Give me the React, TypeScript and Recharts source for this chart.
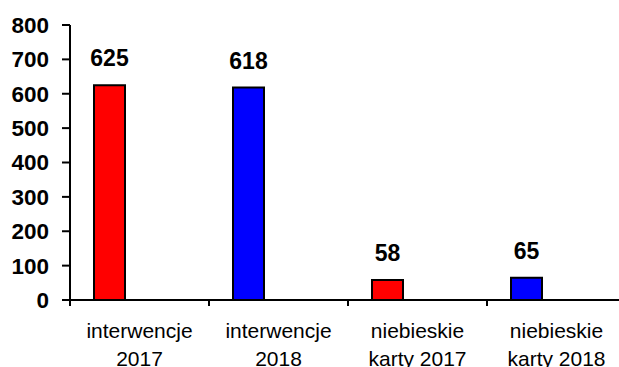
import { BarChart, Bar, XAxis, YAxis, Cell, LabelList } from "recharts";

// chart values
const categories = ["interwencje\n2017", "interwencje\n2018", "niebieskie\nkarty 2017", "niebieskie\nkarty 2018"];
const counts = [625, 618, 58, 65];
const emptySeries = [null, null, null, null]; // second (empty) series, keeps bars left of centre
const barColours = ["#FF0000", "#0000FF", "#FF0000", "#0000FF"];
const yTicks = [0, 100, 200, 300, 400, 500, 600, 700, 800];

const FONT = "'Liberation Sans', Arial, sans-serif";
const AXIS_Y = 300;

const data = categories.map((name, i) => ({ name, count: counts[i], empty: emptySeries[i] }));

function CategoryTick(props: any) {
  const { x, payload } = props;
  const lines = String(payload.value).split("\n");
  const half = payload.offset ?? 0;
  return (
    <g>
      <line x1={x - half} x2={x - half} y1={AXIS_Y} y2={AXIS_Y + 6} stroke="#000" strokeWidth={2} />
      <text x={x} y={AXIS_Y} textAnchor="middle" fontSize={21} fontFamily={FONT} fill="#000">
        <tspan x={x} dy={38}>{lines[0]}</tspan>
        <tspan x={x} dy={28}>{lines[1]}</tspan>
      </text>
    </g>
  );
}

export default function App() {
  return (
    <div style={{ position: "absolute", left: 0, top: 0, width: 619, height: 367, overflow: "hidden", background: "#fff" }}>
      <BarChart
        width={640}
        height={367}
        data={data}
        margin={{ top: 25, right: 14, bottom: 0, left: 0 }}
        barSize={31}
        barGap={29}
      >
        <XAxis
          dataKey="name"
          interval={0}
          height={67}
          tickLine={false}
          tick={<CategoryTick />}
          axisLine={{ stroke: "#000", strokeWidth: 2 }}
        />
        <YAxis
          width={70}
          domain={[0, 800]}
          ticks={yTicks}
          interval={0}
          tickSize={8}
          tickMargin={13}
          axisLine={{ stroke: "#000", strokeWidth: 2 }}
          tickLine={{ stroke: "#000", strokeWidth: 2 }}
          tick={{ fill: "#000", fontSize: 22.5, fontWeight: "bold", fontFamily: FONT }}
        />
        <Bar dataKey="count" stroke="#000" strokeWidth={2} isAnimationActive={false}>
          {data.map((d, i) => (
            <Cell key={d.name} fill={barColours[i]} />
          ))}
          <LabelList
            dataKey="count"
            position="top"
            offset={19}
            fill="#000"
            fontSize={23}
            fontWeight="bold"
            fontFamily={FONT}
          />
        </Bar>
        <Bar dataKey="empty" isAnimationActive={false} />
      </BarChart>
    </div>
  );
}
